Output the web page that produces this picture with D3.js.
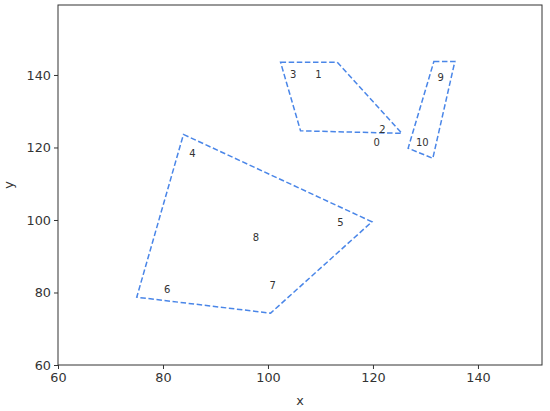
<!DOCTYPE html>
<html>
<head>
<meta charset="utf-8">
<script src="https://cdn.jsdelivr.net/npm/d3@7"></script>
<style>
  body { margin: 0; background: #fff; }
  svg { font-family: "DejaVu Sans", sans-serif; }
</style>
</head>
<body>
<div id="chart"></div>
<script>
// hull outlines (data coords), one array per cluster
const hullA = [[102.4, 143.5], [113.2, 143.5], [125.5, 123.9], [106.2, 124.6]];
const hullB = [[131.6, 143.7], [135.6, 143.7], [131.4, 117.0], [126.7, 119.8]];
const hullC = [[83.9, 123.6], [119.8, 99.5], [100.5, 74.3], [75.0, 78.7]];
const hulls = [hullA, hullB, hullC];

// point labels (text anchor = left/baseline)
const labelNames = ["0", "1", "2", "3", "4", "5", "6", "7", "8", "9", "10"];
const labelX = [120.1, 109.0, 121.2, 104.2, 85.0, 113.2, 80.2, 100.3, 97.1, 132.3, 128.2];
const labelY = [120.3, 139.3, 124.1, 139.3, 117.4, 98.3, 79.9, 81.1, 94.2, 138.4, 120.3];

const xTicks = [60, 80, 100, 120, 140];
const yTicks = [60, 80, 100, 120, 140];

const width = 550, height = 411;
const margin = {top: 5, right: 8, bottom: 46, left: 58};

let svg = d3.select("#chart").append("svg")
  .attr("width", width)
  .attr("height", height);

let x = d3.scaleLinear().domain([60, 152.2]).range([margin.left, width - margin.right]);
let y = d3.scaleLinear().domain([60, 159.3]).range([height - margin.bottom, margin.top]);

let line = d3.line()
  .x(function(d) { return x(d[0]); })
  .y(function(d) { return y(d[1]); })
  .curve(d3.curveLinearClosed);

svg.selectAll("path.hull")
  .data(hulls)
  .enter().append("path")
  .attr("class", "hull")
  .attr("d", line)
  .attr("fill", "none")
  .attr("stroke", "#4a86e8")
  .attr("stroke-width", 1.5)
  .attr("stroke-dasharray", "5.5,2.6");

svg.selectAll("text.lbl")
  .data(labelNames)
  .enter().append("text")
  .attr("class", "lbl")
  .attr("x", function(d, i) { return x(labelX[i]); })
  .attr("y", function(d, i) { return y(labelY[i]); })
  .attr("font-size", 10)
  .attr("fill", "#333")
  .text(function(d) { return d; });

// frame
svg.append("rect")
  .attr("x", margin.left)
  .attr("y", margin.top)
  .attr("width", width - margin.left - margin.right)
  .attr("height", height - margin.top - margin.bottom)
  .attr("fill", "none")
  .attr("stroke", "#333")
  .attr("stroke-width", 1);

let xAxis = svg.append("g")
  .attr("transform", "translate(0," + (height - margin.bottom) + ")")
  .call(d3.axisBottom(x).tickValues(xTicks).tickSize(4).tickPadding(4));

let yAxis = svg.append("g")
  .attr("transform", "translate(" + margin.left + ",0)")
  .call(d3.axisLeft(y).tickValues(yTicks).tickSize(4).tickPadding(3));

[xAxis, yAxis].forEach(function(a) {
  a.select(".domain").remove();
  a.selectAll("line").attr("stroke", "#333");
  a.selectAll("text")
    .attr("font-size", 12.8)
    .attr("font-family", "DejaVu Sans, sans-serif")
    .attr("fill", "#333");
});

svg.append("text")
  .attr("x", (margin.left + width - margin.right) / 2)
  .attr("y", 405)
  .attr("text-anchor", "middle")
  .attr("font-size", 12.8)
  .attr("fill", "#333")
  .text("x");

svg.append("text")
  .attr("transform", "translate(13," + ((margin.top + height - margin.bottom) / 2) + ") rotate(-90)")
  .attr("text-anchor", "middle")
  .attr("font-size", 12.8)
  .attr("fill", "#333")
  .text("y");
</script>
</body>
</html>
